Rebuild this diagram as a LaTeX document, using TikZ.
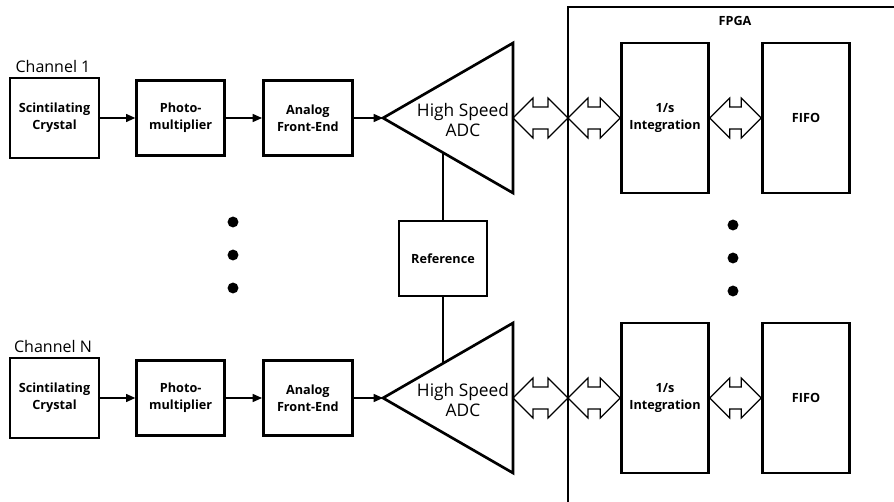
\documentclass[tikz,border=0pt]{standalone}
\usepackage{fontspec}
\setmainfont{Open Sans}
\usepackage{tikz}
\usetikzlibrary{arrows.meta,positioning,calc}

\tikzset{
  block/.style={draw, line width=2pt, align=center, inner sep=0pt,
    font=\fontsize{9.5}{12.5}\selectfont\bfseries},
  chanlabel/.style={font=\fontsize{12}{14}\selectfont},
  adclabel/.style={align=center, inner sep=0pt, font=\fontsize{13}{15}\selectfont},
  sig/.style={line width=1.1pt, -{Triangle[length=7pt,width=6pt]}},
  refline/.style={line width=0.8pt},
  bus/.style={line width=0.9pt, line join=miter},
}

% double block arrow between two points on one level
\newcommand{\busarrow}[2]{
  \draw[bus] let \p1=(#1), \p2=(#2) in
    (\x1,\y1) -- (\x1+15pt,\y1+15pt) -- (\x1+15pt,\y1+8.25pt)
    -- (\x2-15pt,\y1+8.25pt) -- (\x2-15pt,\y1+15pt) -- (\x2,\y1)
    -- (\x2-15pt,\y1-15pt) -- (\x2-15pt,\y1-8.25pt)
    -- (\x1+15pt,\y1-8.25pt) -- (\x1+15pt,\y1-15pt) -- cycle;
}

\begin{document}
\begin{tikzpicture}[x=0.75pt, y=-0.75pt]
  \useasboundingbox (0,0) rectangle (894,502);

  % FPGA outline, runs off the page on the right and at the bottom
  \draw[line width=2pt] (900,7) -- (568,7) -- (568,510);
  \node[font=\fontsize{9.5}{12}\selectfont\bfseries] (fpga) at (735,21) {FPGA};

  \foreach \c/\lab/\yy in {1/1/0, 2/N/280} {
    \node[chanlabel] (chan\c) at (53,67+\yy) {Channel \lab};
    \node[block, minimum width=66.75pt, minimum height=60pt] (crys\c) at (54.5,118+\yy) {Scintilating\\Crystal};
    \node[block, minimum width=66pt, minimum height=56.25pt, right=26.25pt of crys\c] (pmt\c) {Photo-\\multiplier};
    \node[block, minimum width=66.75pt, minimum height=56.25pt, right=27pt of pmt\c] (afe\c) {Analog\\Front-End};

    % ADC triangle
    \coordinate (adcin\c) at (383,118+\yy);
    \coordinate (adcout\c) at (513,118+\yy);
    \draw[line width=2pt, line join=miter] (adcin\c) -- (513,43+\yy) -- (513,193+\yy) -- cycle;
    \node[adclabel] (adc\c) at (463,120+\yy) {High Speed\\ADC};

    \draw[sig] (crys\c) -- (pmt\c);
    \draw[sig] (pmt\c) -- (afe\c);
    \draw[sig] (afe\c) -- (adcin\c);

    % FPGA side
    \coordinate (fpgain\c) at (568,118+\yy);
    \node[block, minimum width=65.25pt, minimum height=112.5pt] (integ\c) at (665,118+\yy) {1/s\\Integration};
    \node[block, minimum width=65.25pt, minimum height=112.5pt] (fifo\c) at (806,118+\yy) {FIFO};

    \busarrow{adcout\c}{fpgain\c}
    \busarrow{fpgain\c}{integ\c.west}
    \busarrow{integ\c.east}{fifo\c.west}
  }

  % shared reference
  \node[block, line width=1.7pt, minimum width=66pt, minimum height=56.25pt] (ref) at (443,258.5) {Reference};
  \coordinate (adcfoot1) at (443,152.6);
  \coordinate (adchead2) at (443,363.4);
  \draw[refline] (adcfoot1) -- (ref);
  \draw[refline] (ref) -- (adchead2);

  % channels in between
  \foreach \d/\y in {1/222, 2/255, 3/288} \fill (233,\y) circle (4.1pt);
  \foreach \d/\y in {1/225, 2/258, 3/291} \fill (733,\y) circle (4.1pt);
\end{tikzpicture}
\end{document}
